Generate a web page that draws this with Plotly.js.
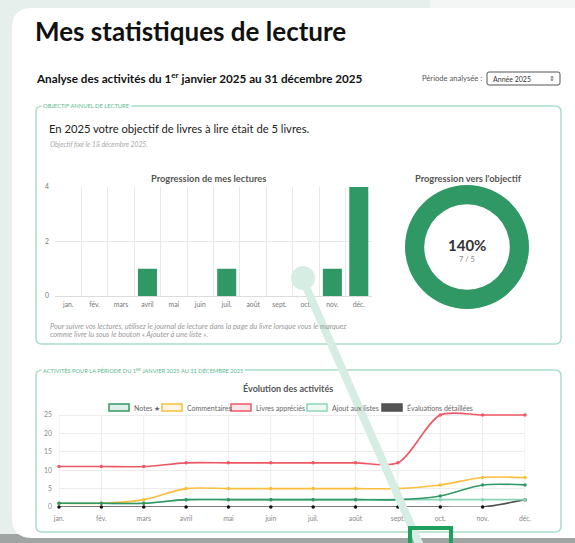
<!DOCTYPE html>
<html><head><meta charset="utf-8">
<script src="https://cdn.plot.ly/plotly-3.0.1.min.js"></script>
<style>html,body{margin:0;padding:0;background:#e6efec;}#c{width:575px;height:543px;}</style>
</head><body><div id="c"></div>
<script>
// ---------- data ----------
const months = ['jan.','fév.','mars','avril','mai','juin','juil.','août','sept.','oct.','nov.','déc.'];
const booksRead = [0,0,0,1,0,0,1,0,0,0,1,4];
const goalBooks = 5;
const seriesNames = ['Notes ★','Commentaires','Livres appréciés','Ajout aux listes','Évaluations détaillées'];
const notes = [1,1,1,2,2,2,2,2,2,3,6,6];
const commentaires = [1,1,2,5,5,5,5,5,5,6,8,8];
const livresApprecies = [11,11,11,12,12,12,12,12,12,25,25,25];
const ajoutListes = [1,1,1,2,2,2,2,2,2,2,2,2];
const evaluations = [0,0,0,0,0,0,0,0,0,0,0,2];
const barTicks = [0,2,4];
const lineTicks = [0,5,10,15,20,25];

// ---------- helpers ----------
const W = 575, H = 543;
const X = p => p / W;
const Y = p => 1 - p / H;
const F = 'Lato, "Open Sans", sans-serif';
function rr(x0, y0, x1, y1, r) {
  const P = (x, y) => X(x).toFixed(5) + ',' + Y(y).toFixed(5);
  return 'M' + P(x0 + r, y0) + ' L' + P(x1 - r, y0) + ' Q' + P(x1, y0) + ' ' + P(x1, y0 + r) +
    ' L' + P(x1, y1 - r) + ' Q' + P(x1, y1) + ' ' + P(x1 - r, y1) +
    ' L' + P(x0 + r, y1) + ' Q' + P(x0, y1) + ' ' + P(x0, y1 - r) +
    ' L' + P(x0, y0 + r) + ' Q' + P(x0, y0) + ' ' + P(x0 + r, y0) + ' Z';
}
function ann(text, x, y, size, color, opts) {
  return Object.assign({
    text: text, xref: 'paper', yref: 'paper', x: X(x), y: Y(y), showarrow: false,
    xanchor: 'left', yanchor: 'middle', font: {family: F, size: size, color: color || '#222'}
  }, opts || {});
}

const totalRead = booksRead.reduce((a, b) => a + b, 0);
const green = 'rgb(48,152,100)';
const colors = ['rgb(48,152,100)', 'rgb(248,190,60)', 'rgb(238,88,100)', 'rgb(140,214,184)', 'rgb(80,80,80)'];
const seriesData = [notes, commentaires, livresApprecies, ajoutListes, evaluations];
const idx = months.map((m, i) => i);

// ---------- traces ----------
const traces = [];
traces.push({
  type: 'bar', x: idx, y: booksRead, xaxis: 'x', yaxis: 'y', width: 0.72,
  marker: {color: green, line: {width: 0}}, hoverinfo: 'none'
});
traces.push({
  type: 'pie', values: [Math.min(totalRead, goalBooks), Math.max(goalBooks - totalRead, 0)],
  hole: 0.69, sort: false, textinfo: 'none', hoverinfo: 'none', showlegend: false,
  marker: {colors: [green, '#e8e8e8'], line: {width: 0}},
  domain: {x: [X(405), X(529)], y: [Y(309), Y(185)]}
});
// draw in reverse order so the first series is on top (like Chart.js)
for (let k = seriesData.length - 1; k >= 0; k--) {
  traces.push({
    type: 'scatter', mode: 'lines+markers', x: idx, y: seriesData[k], xaxis: 'x2', yaxis: 'y2',
    name: seriesNames[k], cliponaxis: false,
    line: {color: colors[k], width: 1.6, shape: 'spline', smoothing: 0.8},
    marker: {color: k === 4 ? '#111' : colors[k], size: 3.5}, hoverinfo: 'none', showlegend: false
  });
}

// ---------- shapes ----------
const shapes = [];
shapes.push({type: 'rect', xref: 'paper', yref: 'paper', x0: X(430), x1: 1, y0: Y(12), y1: 1, fillcolor: '#f3f6f5', line: {width: 0}, layer: 'below'});
shapes.push({type: 'rect', xref: 'paper', yref: 'paper', x0: 0, x1: 1, y0: 0, y1: Y(534), fillcolor: 'rgb(160,165,163)', line: {width: 0}, layer: 'below'});
shapes.push({type: 'path', xref: 'paper', yref: 'paper', path: rr(12, 8, 595, 538, 20), fillcolor: '#ffffff', line: {width: 0}, layer: 'below'});
shapes.push({type: 'path', xref: 'paper', yref: 'paper', path: rr(36, 106, 561, 344, 6), fillcolor: 'rgba(0,0,0,0)', line: {color: 'rgb(170,222,200)', width: 1.5}, layer: 'below'});
shapes.push({type: 'path', xref: 'paper', yref: 'paper', path: rr(36, 370, 561, 532, 6), fillcolor: 'rgba(0,0,0,0)', line: {color: 'rgb(170,222,200)', width: 1.5}, layer: 'below'});
shapes.push({type: 'path', xref: 'paper', yref: 'paper', path: rr(487, 72, 560, 85, 2), fillcolor: '#fff', line: {color: '#555', width: 1}, layer: 'below'});
const legX = [109, 162, 231, 307, 382];
for (let k = 0; k < seriesNames.length; k++) {
  shapes.push({type: 'rect', xref: 'paper', yref: 'paper', x0: X(legX[k]), x1: X(legX[k] + 20), y0: Y(411), y1: Y(404),
    fillcolor: k === 4 ? 'rgb(85,85,85)' : colors[k].replace('rgb', 'rgba').replace(')', ',0.15)'),
    line: {color: colors[k], width: 1.5}, layer: 'below'});
}
// pointer overlay
shapes.push({type: 'line', xref: 'paper', yref: 'paper', x0: X(303), y0: Y(280), x1: X(421), y1: Y(548), line: {color: 'rgb(214,237,227)', width: 8}, layer: 'above'});
shapes.push({type: 'circle', xref: 'paper', yref: 'paper', x0: X(291), x1: X(315), y0: Y(290), y1: Y(266), fillcolor: 'rgb(214,237,227)', line: {width: 0}, layer: 'above'});
shapes.push({type: 'rect', xref: 'paper', yref: 'paper', x0: X(410), x1: X(451), y0: Y(560), y1: Y(528), fillcolor: 'rgba(0,0,0,0)', line: {color: 'rgb(30,160,92)', width: 4}, layer: 'above'});

// ---------- annotations ----------
const teal = 'rgb(90,185,145)';
const annotations = [
  ann('<b>Mes statistiques de lecture</b>', 33, 31, 26, '#111'),
  ann('<b>Analyse des activités du 1<sup>er</sup> janvier 2025 au 31 décembre 2025</b>', 34, 78, 11.7, '#111'),
  ann('Période analysée :', 484, 78, 7.6, '#555', {xanchor: 'right'}),
  ann('Année 2025', 491, 78.5, 7, '#333'),
  ann('⇕', 557, 78.5, 7, '#555', {xanchor: 'right', font: {family: 'DejaVu Sans', size: 7, color: '#555'}}),
  ann('OBJECTIF ANNUEL DE LECTURE', 41, 106, 5.8, teal, {bgcolor: '#fff', borderpad: 1}),
  ann('En 2025 votre objectif de livres à lire était de 5 livres.', 47, 128, 11.2, '#222'),
  ann('<i>Objectif fixé le 18 décembre 2025.</i>', 48, 144, 6.8, '#aaa'),
  ann('<b>Progression de mes lectures</b>', 208, 178, 9.3, '#555', {xanchor: 'center'}),
  ann('<b>Progression vers l\'objectif</b>', 468, 178, 9.3, '#555', {xanchor: 'center'}),
  ann('<b>' + Math.round(100 * totalRead / goalBooks) + '%</b>', 467, 245, 15, '#333', {xanchor: 'center'}),
  ann(totalRead + ' / ' + goalBooks, 467, 259, 7.5, '#888', {xanchor: 'center'}),
  ann('<i>Pour suivre vos lectures, utilisez le journal de lecture dans la page du livre lorsque vous le marquez</i>', 48, 326, 7.4, '#999'),
  ann('<i>comme livre lu sous le bouton « Ajouter à une liste ».</i>', 48, 334.5, 7.4, '#999'),
  ann('ACTIVITÉS POUR LA PÉRIODE DU 1<sup>ER</sup> JANVIER 2025 AU 31 DÉCEMBRE 2025', 41, 370, 5.7, teal, {bgcolor: '#fff', borderpad: 1}),
  ann('<b>Évolution des activités</b>', 288, 389, 9, '#555', {xanchor: 'center'})
];
for (let k = 0; k < seriesNames.length; k++) {
  annotations.push(ann(seriesNames[k], legX[k] + 23, 407.5, 7, '#666'));
}

// line chart: 25 sits at y=415px, 0 at y=507px; range extended above 25 so the spline is not clipped
const pxPerUnit = (507 - 415) / 25;
const yTopVal = 27;
const layout = {
  width: W, height: H, margin: {l: 0, r: 0, t: 0, b: 0},
  paper_bgcolor: '#e6efec', plot_bgcolor: 'rgba(0,0,0,0)', showlegend: false,
  font: {family: F},
  xaxis: {domain: [X(55), X(372)], range: [-0.5, 11.5], tickvals: idx, ticktext: months, showgrid: false,
    zeroline: false, showline: false, ticks: '', tickfont: {size: 6.8, color: '#777'}, ticklabelstandoff: 3,
    minor: {tick0: -0.5, dtick: 1, showgrid: true, gridcolor: '#e8e8e8', gridwidth: 1}, fixedrange: true},
  yaxis: {domain: [Y(296), Y(187)], range: [0, 4], tickvals: barTicks, showgrid: true, gridcolor: '#e8e8e8',
    zeroline: true, zerolinecolor: '#dcdcdc', showline: false, ticks: '', tickfont: {size: 6.8, color: '#777'}, ticklabelstandoff: 5, fixedrange: true},
  xaxis2: {domain: [X(59), X(525)], range: [0, 11], anchor: 'y2', tickvals: idx, ticktext: months, showgrid: false,
    zeroline: false, showline: false, ticks: '', tickfont: {size: 6.8, color: '#888'}, ticklabelstandoff: 6, fixedrange: true},
  yaxis2: {domain: [Y(507), Y(507 - pxPerUnit * yTopVal)], range: [0, yTopVal], anchor: 'x2', tickvals: lineTicks, showgrid: true, gridcolor: '#ececec',
    zeroline: false, showline: false, ticks: '', tickfont: {size: 6.8, color: '#888'}, ticklabelstandoff: 6, fixedrange: true},
  shapes: shapes, annotations: annotations
};
// vertical grid lines of the line chart, limited to 0..25 (data coordinates of x2/y2)
idx.forEach(i => shapes.splice(3, 0, {type: 'line', xref: 'x2', yref: 'y2', x0: i, x1: i, y0: 0, y1: 25,
  line: {color: '#ececec', width: 1}, layer: 'below'}));
Plotly.newPlot('c', traces, layout, {staticPlot: true, displayModeBar: false});
</script></body></html>
